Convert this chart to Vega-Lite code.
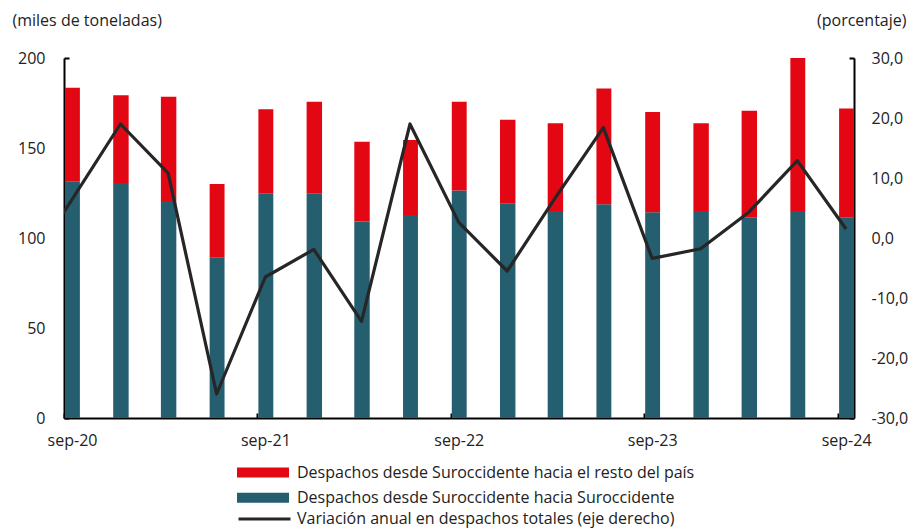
{
  "$schema": "https://vega.github.io/schema/vega-lite/v6.json",
  "width": 790,
  "height": 360,
  "autosize": {"type": "none"},
  "padding": {"left": 64, "top": 58, "right": 58, "bottom": 110},
  "background": "white",
  "config": {
    "font": "Open Sans",
    "view": {"stroke": null},
    "axis": {
      "labelFont": "Open Sans", "labelFontSize": 16, "labelColor": "#222",
      "titleFont": "Open Sans", "titleFontSize": 16, "titleFontWeight": "normal", "titleColor": "#222",
      "domainColor": "#000", "domainWidth": 2, "tickColor": "#000", "tickWidth": 2,
      "grid": false, "labelFlush": false, "labelOverlap": false
    },
    "legend": {"labelFont": "Open Sans", "labelFontSize": 16, "labelColor": "#222", "labelLimit": 0, "padding": 0}
  },
  "datasets": {
    "despachos": [
      {"fecha": "2020-09-01", "serie": "Despachos desde Suroccidente hacia Suroccidente", "valor": 131.3},
      {"fecha": "2020-09-01", "serie": "Despachos desde Suroccidente hacia el resto del país", "valor": 52.2},
      {"fecha": "2020-12-01", "serie": "Despachos desde Suroccidente hacia Suroccidente", "valor": 130.6},
      {"fecha": "2020-12-01", "serie": "Despachos desde Suroccidente hacia el resto del país", "valor": 48.7},
      {"fecha": "2021-03-01", "serie": "Despachos desde Suroccidente hacia Suroccidente", "valor": 120.5},
      {"fecha": "2021-03-01", "serie": "Despachos desde Suroccidente hacia el resto del país", "valor": 58.0},
      {"fecha": "2021-06-01", "serie": "Despachos desde Suroccidente hacia Suroccidente", "valor": 89.3},
      {"fecha": "2021-06-01", "serie": "Despachos desde Suroccidente hacia el resto del país", "valor": 40.7},
      {"fecha": "2021-09-01", "serie": "Despachos desde Suroccidente hacia Suroccidente", "valor": 124.8},
      {"fecha": "2021-09-01", "serie": "Despachos desde Suroccidente hacia el resto del país", "valor": 46.7},
      {"fecha": "2021-12-01", "serie": "Despachos desde Suroccidente hacia Suroccidente", "valor": 124.8},
      {"fecha": "2021-12-01", "serie": "Despachos desde Suroccidente hacia el resto del país", "valor": 50.9},
      {"fecha": "2022-03-01", "serie": "Despachos desde Suroccidente hacia Suroccidente", "valor": 109.1},
      {"fecha": "2022-03-01", "serie": "Despachos desde Suroccidente hacia el resto del país", "valor": 44.4},
      {"fecha": "2022-06-01", "serie": "Despachos desde Suroccidente hacia Suroccidente", "valor": 112.8},
      {"fecha": "2022-06-01", "serie": "Despachos desde Suroccidente hacia el resto del país", "valor": 41.6},
      {"fecha": "2022-09-01", "serie": "Despachos desde Suroccidente hacia Suroccidente", "valor": 126.4},
      {"fecha": "2022-09-01", "serie": "Despachos desde Suroccidente hacia el resto del país", "valor": 49.3},
      {"fecha": "2022-12-01", "serie": "Despachos desde Suroccidente hacia Suroccidente", "valor": 119.3},
      {"fecha": "2022-12-01", "serie": "Despachos desde Suroccidente hacia el resto del país", "valor": 46.4},
      {"fecha": "2023-03-01", "serie": "Despachos desde Suroccidente hacia Suroccidente", "valor": 115.0},
      {"fecha": "2023-03-01", "serie": "Despachos desde Suroccidente hacia el resto del país", "valor": 48.7},
      {"fecha": "2023-06-01", "serie": "Despachos desde Suroccidente hacia Suroccidente", "valor": 118.7},
      {"fecha": "2023-06-01", "serie": "Despachos desde Suroccidente hacia el resto del país", "valor": 64.3},
      {"fecha": "2023-09-01", "serie": "Despachos desde Suroccidente hacia Suroccidente", "valor": 114.3},
      {"fecha": "2023-09-01", "serie": "Despachos desde Suroccidente hacia el resto del país", "valor": 55.7},
      {"fecha": "2023-12-01", "serie": "Despachos desde Suroccidente hacia Suroccidente", "valor": 115.0},
      {"fecha": "2023-12-01", "serie": "Despachos desde Suroccidente hacia el resto del país", "valor": 48.7},
      {"fecha": "2024-03-01", "serie": "Despachos desde Suroccidente hacia Suroccidente", "valor": 111.5},
      {"fecha": "2024-03-01", "serie": "Despachos desde Suroccidente hacia el resto del país", "valor": 59.2},
      {"fecha": "2024-06-01", "serie": "Despachos desde Suroccidente hacia Suroccidente", "valor": 115.0},
      {"fecha": "2024-06-01", "serie": "Despachos desde Suroccidente hacia el resto del país", "valor": 91.0},
      {"fecha": "2024-09-01", "serie": "Despachos desde Suroccidente hacia Suroccidente", "valor": 111.5},
      {"fecha": "2024-09-01", "serie": "Despachos desde Suroccidente hacia el resto del país", "valor": 60.5}
    ],
    "variacion": [
      {"fecha": "2020-06-01", "variacion": -6.0},
      {"fecha": "2020-09-01", "variacion": 6.4},
      {"fecha": "2020-12-01", "variacion": 19.0},
      {"fecha": "2021-03-01", "variacion": 10.8},
      {"fecha": "2021-06-01", "variacion": -26.0},
      {"fecha": "2021-09-01", "variacion": -6.5},
      {"fecha": "2021-12-01", "variacion": -1.9},
      {"fecha": "2022-03-01", "variacion": -13.9},
      {"fecha": "2022-06-01", "variacion": 19.0},
      {"fecha": "2022-09-01", "variacion": 2.6},
      {"fecha": "2022-12-01", "variacion": -5.5},
      {"fecha": "2023-03-01", "variacion": 6.6},
      {"fecha": "2023-06-01", "variacion": 18.4},
      {"fecha": "2023-09-01", "variacion": -3.4},
      {"fecha": "2023-12-01", "variacion": -1.8},
      {"fecha": "2024-03-01", "variacion": 4.3},
      {"fecha": "2024-06-01", "variacion": 12.9},
      {"fecha": "2024-09-01", "variacion": 1.5}
    ]
  },
  "layer": [
    {
      "data": {"name": "despachos"},
      "mark": {"type": "bar", "clip": true},
      "encoding": {
        "x": {
          "field": "fecha", "type": "temporal", "timeUnit": "utcyearmonth",
          "scale": {"type": "utc", "domain": [{"year": 2020, "month": 9, "date": 1, "utc": true}, {"year": 2024, "month": 10, "date": 1, "utc": true}]},
          "axis": {
            "title": null,
            "values": [
              {"year": 2020, "month": 9, "date": 1, "utc": true},
              {"year": 2021, "month": 9, "date": 1, "utc": true},
              {"year": 2022, "month": 9, "date": 1, "utc": true},
              {"year": 2023, "month": 9, "date": 1, "utc": true},
              {"year": 2024, "month": 9, "date": 1, "utc": true}
            ],
            "labelExpr": "'sep-' + utcFormat(datum.value, '%y')",
            "labelOffset": 8,
            "tickSize": -5,
            "labelPadding": 19
          }
        },
        "y": {
          "field": "valor", "type": "quantitative", "stack": "zero",
          "scale": {"domain": [0, 200]},
          "axis": {
            "values": [0, 50, 100, 150, 200],
            "tickSize": -5,
            "labelPadding": 24,
            "title": "(miles de toneladas)",
            "titleAngle": 0, "titleX": -52, "titleY": -38, "titleAlign": "left", "titleBaseline": "middle"
          }
        },
        "fill": {
          "field": "serie", "type": "nominal",
          "scale": {
            "domain": ["Despachos desde Suroccidente hacia el resto del país", "Despachos desde Suroccidente hacia Suroccidente"],
            "range": ["#E30613", "#245E6F"]
          },
          "legend": {
            "orient": "none", "legendX": 173, "legendY": 407, "title": null,
            "symbolType": "M-1,-0.19L1,-0.19L1,0.19L-1,0.19Z", "symbolSize": 2704, "symbolStrokeWidth": 0,
            "labelOffset": 8, "clipHeight": 15, "rowPadding": 8.3
          }
        },
        "order": {"field": "serie", "sort": "ascending"}
      }
    },
    {
      "data": {"name": "variacion"},
      "mark": {"type": "line", "clip": true, "strokeWidth": 3.2, "strokeJoin": "round"},
      "encoding": {
        "x": {"field": "fecha", "type": "temporal", "timeUnit": "utcyearmonth", "bandPosition": 0.5},
        "y": {
          "field": "variacion", "type": "quantitative",
          "scale": {"domain": [-30, 30]},
          "axis": {
            "orient": "right",
            "values": [-30, -20, -10, 0, 10, 20, 30],
            "labelExpr": "replace(replace(format(datum.value, '.1f'), '.', ','), '−', '-')",
            "tickSize": -5,
            "labelPadding": 22,
            "title": "(porcentaje)",
            "titleAngle": 0, "titleX": 52, "titleY": -38, "titleAlign": "right", "titleBaseline": "middle"
          }
        },
        "stroke": {
          "datum": "Variación anual en despachos totales (eje derecho)",
          "type": "nominal",
          "scale": {"range": ["#262626"]},
          "legend": {
            "orient": "none", "legendX": 173, "legendY": 453.5, "title": null,
            "symbolType": "stroke", "symbolSize": 2704, "symbolStrokeWidth": 3,
            "labelOffset": 5, "clipHeight": 15
          }
        }
      }
    }
  ],
  "resolve": {"scale": {"y": "independent"}}
}
